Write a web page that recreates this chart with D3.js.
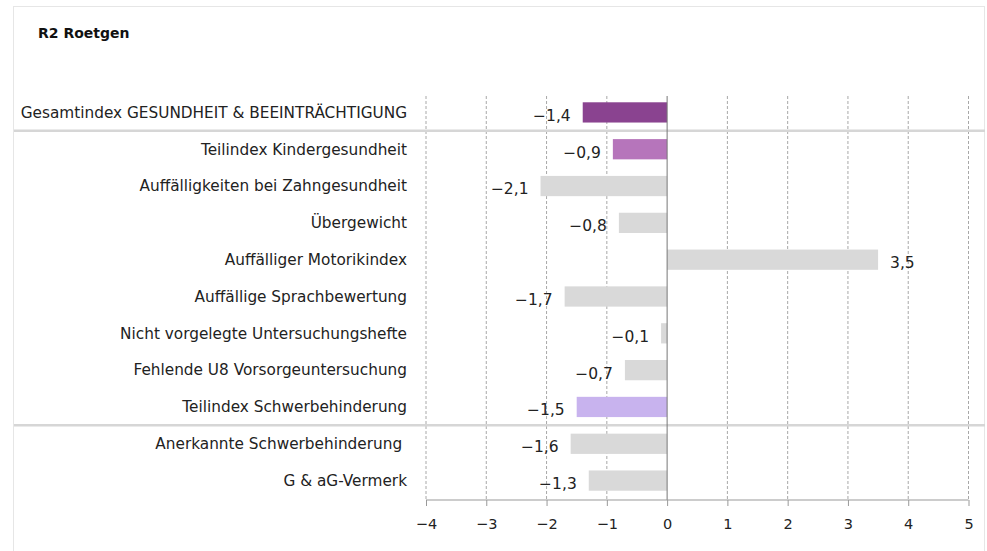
<!DOCTYPE html><html><head><meta charset="utf-8">
<script src="https://cdn.jsdelivr.net/npm/d3@7"></script>
<style>
body { margin: 0; background: #fff; }
text { font-family: "DejaVu Sans", sans-serif; }
</style>
</head>
<body><svg id="chart"></svg>
<script>

var categories = ["Gesamtindex GESUNDHEIT & BEEINTRÄCHTIGUNG", "Teilindex Kindergesundheit",
  "Auffälligkeiten bei Zahngesundheit", "Übergewicht", "Auffälliger Motorikindex",
  "Auffällige Sprachbewertung", "Nicht vorgelegte Untersuchungshefte",
  "Fehlende U8 Vorsorgeuntersuchung", "Teilindex Schwerbehinderung",
  "Anerkannte Schwerbehinderung ", "G & aG-Vermerk"];
var values = [-1.4, -0.9, -2.1, -0.8, 3.5, -1.7, -0.1, -0.7, -1.5, -1.6, -1.3];
var barColors = ["#8a4390", "#b675bb", "#d9d9d9", "#d9d9d9", "#d9d9d9", "#d9d9d9",
  "#d9d9d9", "#d9d9d9", "#c8b3ee", "#d9d9d9", "#d9d9d9"];
var ticks = [-4, -3, -2, -1, 0, 1, 2, 3, 4, 5];
var separators = [1, 9]; // line drawn above these rows

var width = 987, height = 551;
var svg = d3.select("#chart").attr("width", width).attr("height", height);

// panel frame
svg.append("rect")
  .attr("x", 13.5).attr("y", 6.5)
  .attr("width", width - 16).attr("height", height - 4)
  .attr("fill", "none").attr("stroke", "#e6e6e6");

svg.append("text")
  .attr("x", 38).attr("y", 38)
  .style("font-size", "14px").style("font-weight", "bold")
  .attr("fill", "#111")
  .text("R2 Roetgen");

var x = d3.scaleLinear().domain([-4, 5]).range([426, 968.5]);
var y = d3.scaleBand().domain(d3.range(categories.length))
  .range([94, 499]).paddingInner(0.45).paddingOuter(0.225);

function fmt(d) {
  var s = d3.format(".1f")(Math.abs(d)).replace(".", ",");
  return d < 0 ? "\u2212" + s : s;
}

// grid
svg.selectAll(".grid").data(ticks.filter(function(d) { return d != 0; }))
  .enter().append("line")
  .attr("class", "grid")
  .attr("x1", function(d) { return x(d); }).attr("x2", function(d) { return x(d); })
  .attr("y1", 96).attr("y2", 500)
  .attr("stroke", "#a8a8a8").attr("stroke-width", 1)
  .attr("stroke-dasharray", "3,2");

// separators
svg.selectAll(".sep").data(separators)
  .enter().append("line")
  .attr("class", "sep")
  .attr("x1", 14).attr("x2", 985)
  .attr("y1", function(d) { return y(d) - y.step() * y.paddingInner() / 2; })
  .attr("y2", function(d) { return y(d) - y.step() * y.paddingInner() / 2; })
  .attr("stroke", "#d6d6d6").attr("stroke-width", 2.5);

// bars
svg.selectAll(".bar").data(values)
  .enter().append("rect")
  .attr("class", "bar")
  .attr("x", function(d) { return x(Math.min(0, d)); })
  .attr("y", function(d, i) { return y(i); })
  .attr("width", function(d) { return Math.abs(x(d) - x(0)); })
  .attr("height", y.bandwidth())
  .attr("fill", function(d, i) { return barColors[i]; });

// zero line
svg.append("line")
  .attr("x1", x(0)).attr("x2", x(0))
  .attr("y1", 96).attr("y2", 500)
  .attr("stroke", "#777").attr("stroke-width", 1);

// category labels
svg.selectAll(".cat").data(categories)
  .enter().append("text")
  .attr("class", "cat")
  .attr("x", 407)
  .attr("y", function(d, i) { return y(i) + y.bandwidth() / 2; })
  .attr("dy", "0.35em")
  .attr("text-anchor", "end")
  .style("font-size", "15.3px")
  .style("white-space", "pre")
  .attr("fill", "#222")
  .text(function(d) { return d; });

// value labels
svg.selectAll(".val").data(values)
  .enter().append("text")
  .attr("class", "val")
  .attr("x", function(d) { return d < 0 ? x(d) - 12 : x(d) + 12; })
  .attr("y", function(d, i) { return y(i) + y.bandwidth() / 2 + 3; })
  .attr("dy", "0.35em")
  .attr("text-anchor", function(d) { return d < 0 ? "end" : "start"; })
  .style("font-size", "15.5px")
  .attr("fill", "#222")
  .text(fmt);

// x axis
var axis = svg.append("g")
  .attr("transform", "translate(0,500)")
  .call(d3.axisBottom(x).tickValues(ticks).tickSize(6).tickPadding(13)
    .tickFormat(function(d) { return d < 0 ? "\u2212" + Math.abs(d) : d; }));
axis.select(".domain").attr("stroke", "#999").attr("d", "M" + x(-4) + ",0H" + x(5));
axis.selectAll(".tick line").attr("stroke", "#999");
axis.selectAll(".tick text").style("font-size", "14.5px").attr("fill", "#222")
  .style("font-family", "DejaVu Sans, sans-serif");

</script>
</body></html>
